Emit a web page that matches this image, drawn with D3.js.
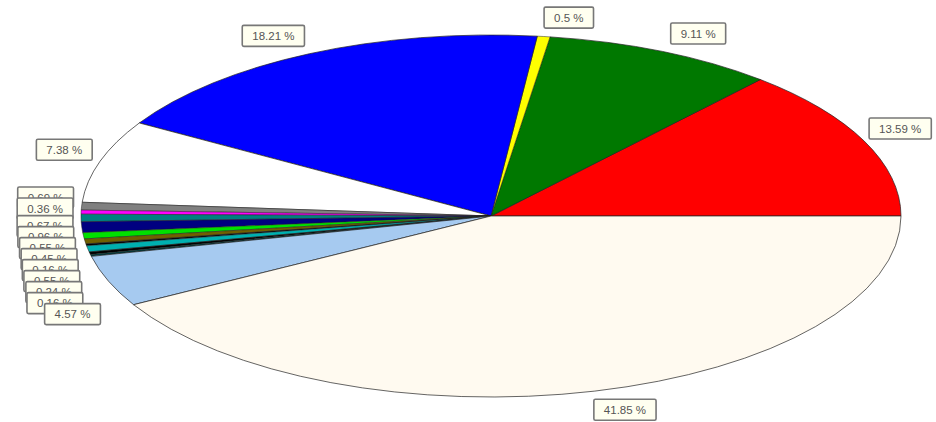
<!DOCTYPE html>
<html>
<head>
<meta charset="utf-8">
<script src="https://cdn.jsdelivr.net/npm/d3@7"></script>
<style>
	body { margin: 0; background: #ffffff; }
</style>
</head>
<body>
<div id="dataviz"></div>
<script>
// slice values, in drawing order (counter clockwise from 3 o'clock)
var values = [13.59, 9.11, 0.5, 18.21, 7.38, 0.69, 0.36, 0.67, 0.96, 0.55, 0.45, 0.16, 0.55, 0.24, 0.16, 4.57, 41.85]
var colors = ["#ff0000", "#007800", "#ffff00", "#0000ff", "#ffffff", "#808080", "#ff00ff", "#008080", "#000080",
	"#00e000", "#706000", "#000000", "#00b0b0", "#000000", "#004040", "#a6caf0", "#fffaf0"]

var width = 936
var height = 422
var cx = 491
var cy = 216
var rx = 410
var ry = 181

var svg = d3.select("#dataviz").append("svg")
	.attr("width", width)
	.attr("height", height)

// pie starts at 3 o'clock and goes counter clockwise
var angleGen = d3.pie()
	.sort(null)
	.value(d => d)
	.startAngle(Math.PI / 2)
	.endAngle(Math.PI / 2 - 2 * Math.PI)

var data = angleGen(values)

var arcGen = d3.arc()
	.innerRadius(0)
	.outerRadius(rx)

// circle squashed into an ellipse
svg.append("g")
	.attr("transform", "translate(" + cx + "," + cy + ") scale(1," + (ry / rx) + ")")
	.selectAll("path")
	.data(data)
	.enter()
	.append("path")
	.attr("d", arcGen)
	.attr("fill", (d, i) => colors[i])
	.attr("stroke", "#222")
	.attr("stroke-width", d => d.value < 1 ? 0.5 : 0.7)
	.attr("vector-effect", "non-scaling-stroke")

// label positions: point on the edge + offset outwards
var labels = data.map(function (d) {
	var a = (d.startAngle + d.endAngle) / 2
	var cos = Math.sin(a)
	var sin = Math.cos(a)
	var ex = cx + rx * cos
	var ey = cy - ry * sin
	var sx = cos < 0 ? -1 : 1
	var sy = sin < 0 ? -1 : 1
	return {
		text: d.value + " %",
		x: ex + sx * (20 + 16 * Math.min(1, Math.abs(cos) / 0.4)),
		y: ey - sy * (8 + 11 * Math.abs(sin)),
		left: cos < 0
	}
})

// push the labels of the left side down so they do not sit on each other
var gap = 11
var left = labels.filter(l => l.left).sort((a, b) => a.y - b.y)
for (var i = 1; i < left.length; i++) {
	if (left[i].y < left[i - 1].y + gap) left[i].y = left[i - 1].y + gap
}

var lab = svg.selectAll(".lab")
	.data(labels)
	.enter()
	.append("g")
	.attr("class", "lab")
	.attr("transform", d => "translate(" + d.x + "," + d.y + ")")

lab.append("rect")
	.attr("fill", "#fffff0")
	.attr("stroke", "#777")
	.attr("stroke-width", 1.6)
	.attr("rx", 1.5)

lab.append("text")
	.text(d => d.text)
	.attr("text-anchor", "middle")
	.attr("dy", "0.35em")
	.attr("font-family", "Liberation Sans, Arial, sans-serif")
	.attr("font-size", "11.5px")
	.attr("fill", "#555")

lab.each(function () {
	var g = d3.select(this)
	var w = g.select("text").node().getComputedTextLength() + 20
	g.select("rect")
		.attr("x", -w / 2)
		.attr("y", -10.5)
		.attr("width", w)
		.attr("height", 21)
})
</script>
</body>
</html>
